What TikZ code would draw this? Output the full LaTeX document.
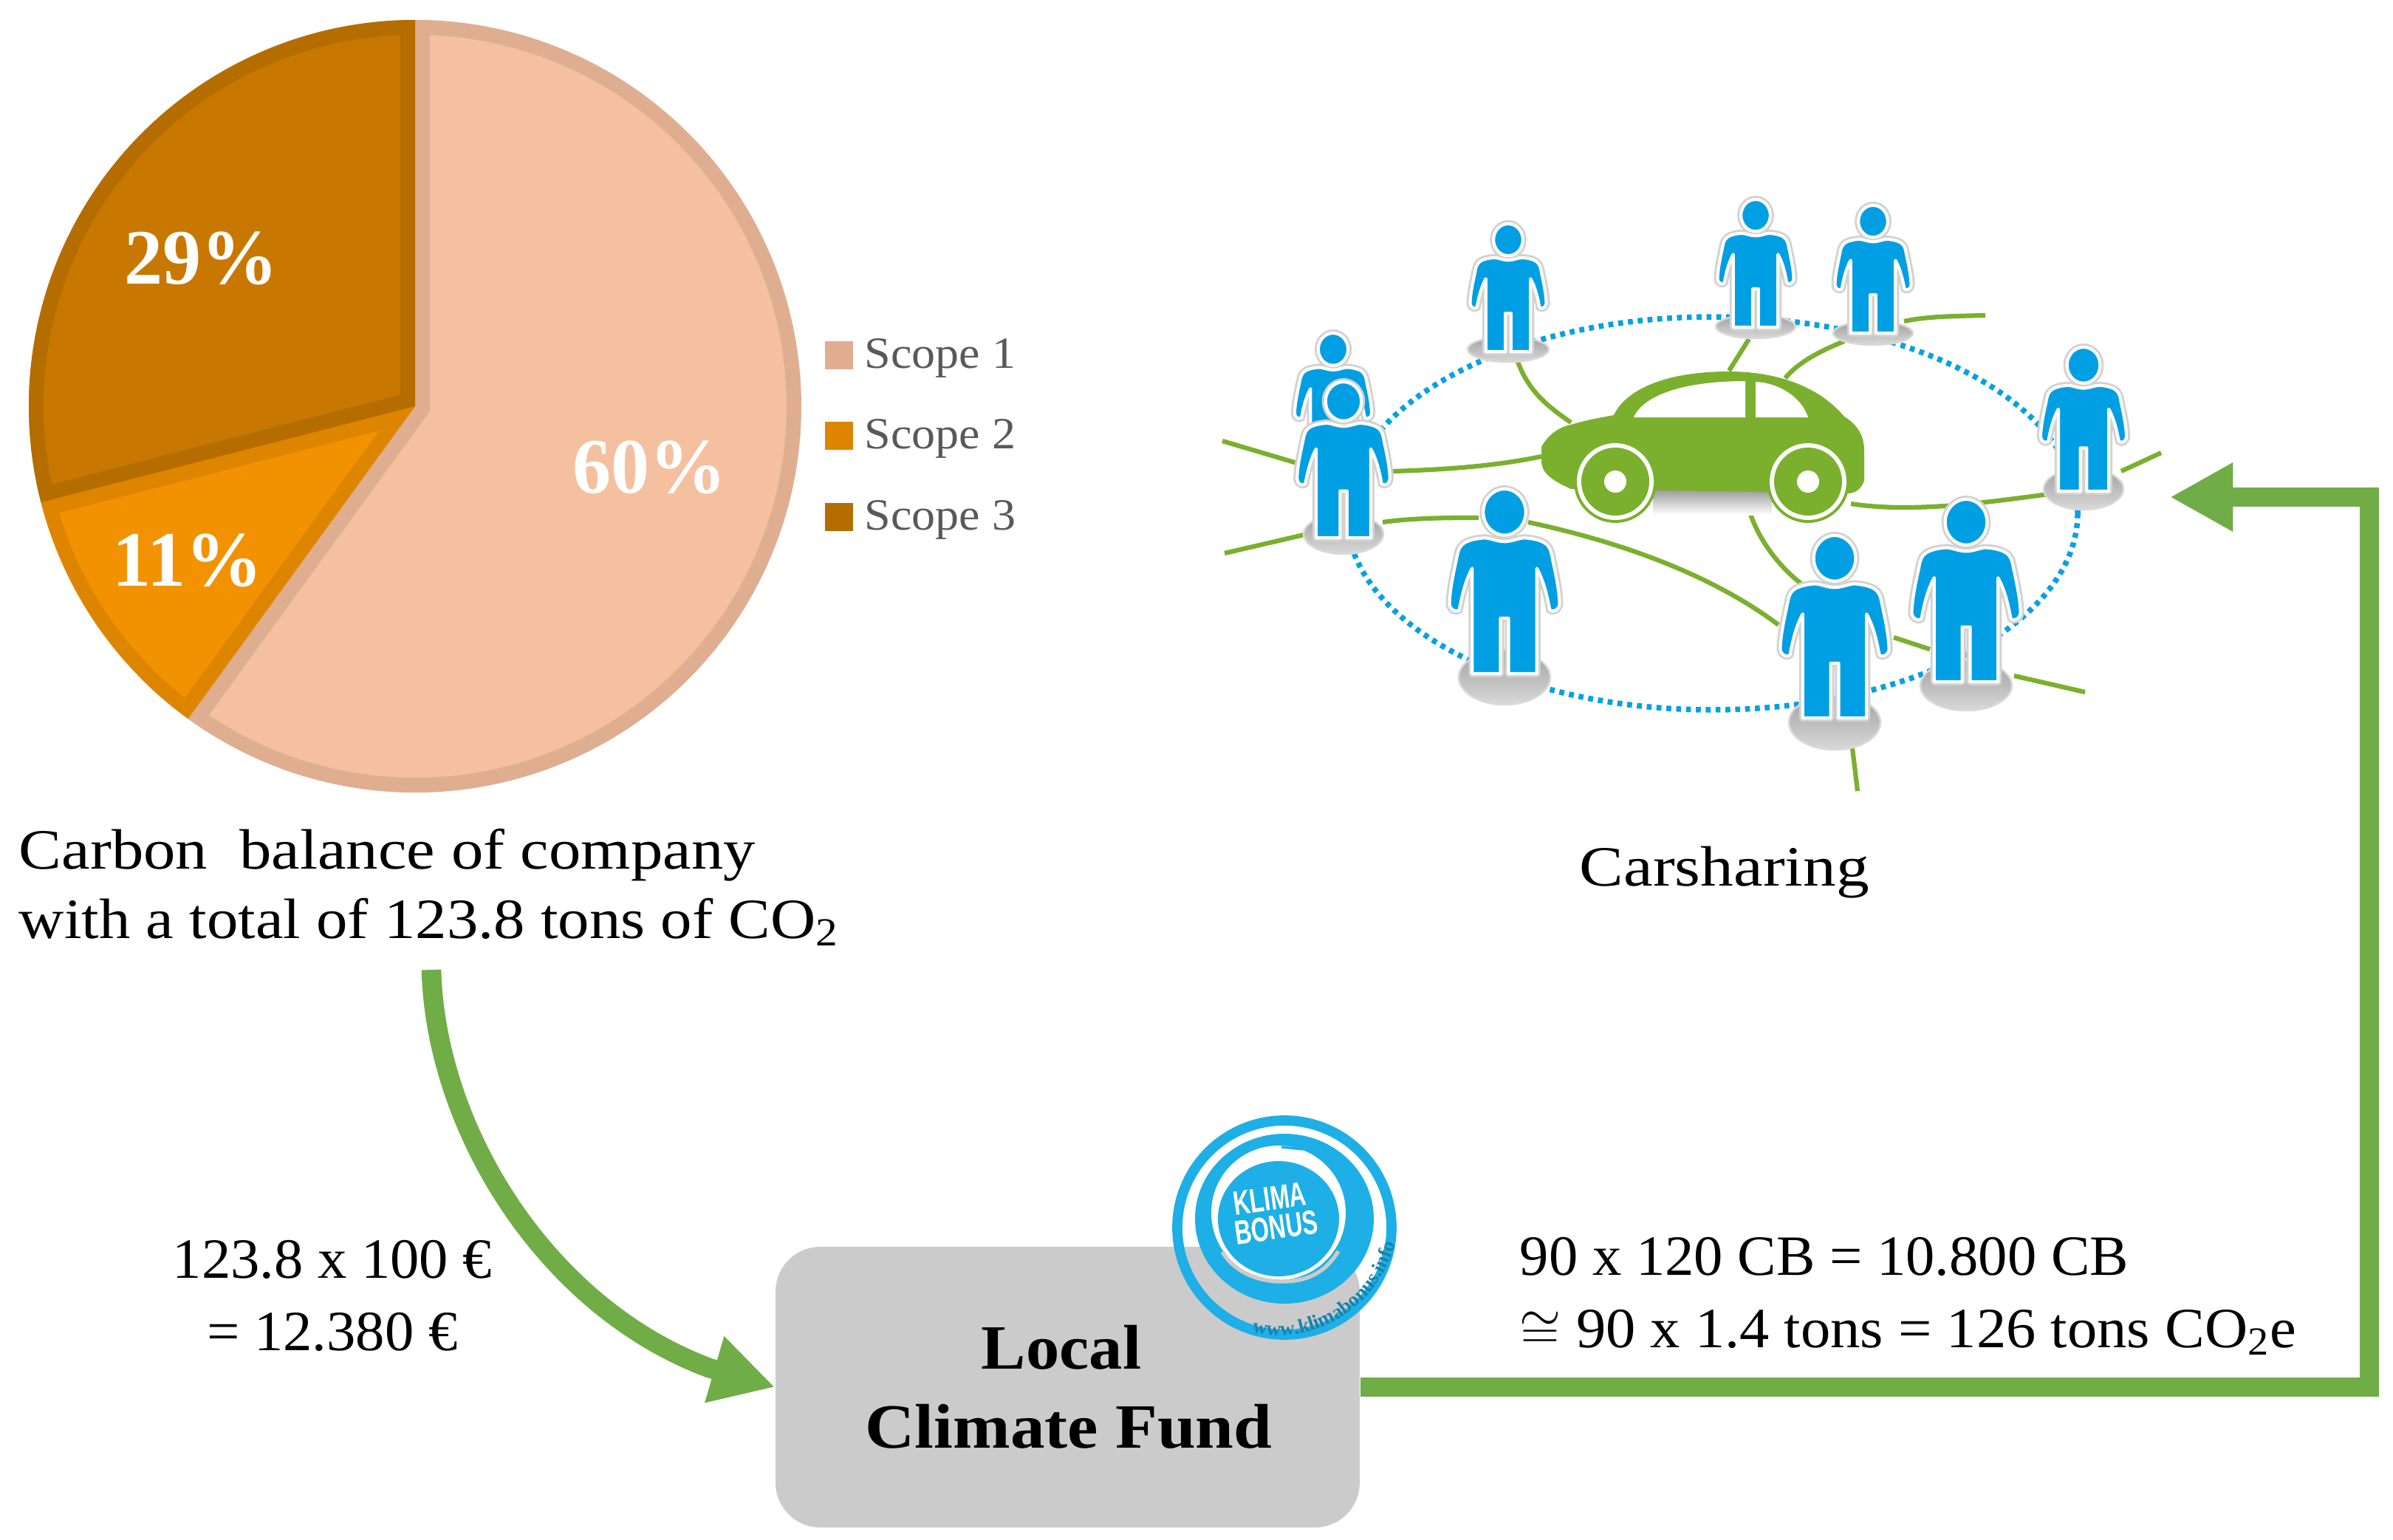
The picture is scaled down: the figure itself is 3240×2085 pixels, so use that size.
\documentclass[tikz,border=0pt]{standalone}
\usepackage{fontspec}
\setmainfont[FakeStretch=1.06]{Liberation Serif}
\newfontfamily\capfont[FakeStretch=1.125]{Liberation Serif}
\newfontfamily\capbfont[FakeStretch=1.10]{Liberation Serif}
\newfontfamily\carfont[FakeStretch=1.16]{Liberation Serif}
\newfontfamily\numfont[FakeStretch=1.02]{Liberation Serif}
\newfontfamily\cbfont[FakeStretch=1.045]{Liberation Serif}
\newfontfamily\fundfont[FakeStretch=1.09]{Liberation Serif}
\newfontfamily\pctfont[FakeStretch=0.98]{Liberation Serif}
\newfontfamily\webfont{Liberation Serif}
\newfontfamily\logofont[FakeStretch=0.68]{Liberation Sans}
\usetikzlibrary{arrows.meta,decorations.text}
\definecolor{greenarrow}{HTML}{70AD47}
\definecolor{sOnef}{HTML}{F5C09F}
\definecolor{sOnes}{HTML}{DFAE90}
\definecolor{sTwof}{HTML}{F39200}
\definecolor{sTwos}{HTML}{DE8500}
\definecolor{sThreef}{HTML}{C87800}
\definecolor{sThrees}{HTML}{B56D00}
\definecolor{legendtext}{HTML}{595959}
\definecolor{boxgray}{HTML}{CBCBCB}
\definecolor{personblue}{HTML}{009FE3}
\definecolor{logoblue}{HTML}{1DAFE6}
\definecolor{cargreen}{HTML}{7AB02E}
\tikzset{
  slice/.style={line width=9.6pt,line join=miter},
  maintext/.style={font=\capfont\fontsize{18.5}{22}\selectfont,inner sep=0pt,anchor=base west,text=black},
  numtext/.style={font=\numfont\fontsize{18.5}{22}\selectfont,inner sep=0pt,anchor=base west,text=black},
  pcttext/.style={font=\pctfont\fontsize{25.5}{28}\bfseries\selectfont,inner sep=0pt,anchor=base west,text=white},
  legendlabel/.style={font=\fontsize{14.5}{16}\selectfont,inner sep=0pt,anchor=base west,text=legendtext},
  legendbox/.style={inner sep=0pt,minimum size=9.3pt},
  fundbox/.style={fill=boxgray,rounded corners=14.5pt,minimum width=189.8pt,minimum height=91.2pt,inner sep=0pt},
  fundtext/.style={font=\fundfont\fontsize{20.5}{24}\bfseries\selectfont,inner sep=0pt,anchor=base,text=black},
  flow/.style={draw=greenarrow,line width=6.4pt,-{Triangle[length=20.5pt,width=21pt]}},
  carline/.style={draw=cargreen,line width=1.5pt},
  dotring/.style={draw=personblue!85!logoblue,line width=1.8pt,dash pattern=on 1.6pt off 1.6pt},
  basedisc/.style={top color=gray!75,bottom color=gray!30,draw=gray!30,line width=0.6pt},
  logotext/.style={rotate=8,font=\logofont\fontsize{11}{13}\bfseries\selectfont,text=white,inner sep=0pt},
}
\newcommand{\sliceshape}[1]{(562,550) -- plot[domain=#1,samples=150] ({562+523*cos(\x)},{550+523*sin(\x)}) -- cycle}
\newcommand{\slicefill}[3]{%
  \begin{scope}
    \clip \sliceshape{#1};
    \draw[slice,fill=#2,draw=#3] \sliceshape{#1};
  \end{scope}}
\newcommand{\bodyshape}{%
  (0.0,0.285)
  .. controls (0.04,0.285) and (0.08,0.265) .. (0.11,0.265)
  .. controls (0.14,0.268) and (0.16,0.27) .. (0.19,0.28)
  .. controls (0.235,0.295) and (0.25,0.32) .. (0.258,0.37)
  .. controls (0.27,0.43) and (0.295,0.53) .. (0.298,0.62)
  .. controls (0.298,0.65) and (0.27,0.672) .. (0.245,0.655)
  .. controls (0.235,0.60) and (0.215,0.50) .. (0.175,0.43)
  -- (0.175,1.0) -- (0.022,1.0) -- (0.022,0.70) -- (-0.022,0.70) -- (-0.022,1.0) -- (-0.175,1.0) -- (-0.175,0.43)
  .. controls (-0.215,0.50) and (-0.235,0.60) .. (-0.245,0.655)
  .. controls (-0.27,0.672) and (-0.298,0.65) .. (-0.298,0.62)
  .. controls (-0.295,0.53) and (-0.27,0.43) .. (-0.258,0.37)
  .. controls (-0.25,0.32) and (-0.235,0.295) .. (-0.19,0.28)
  .. controls (-0.16,0.27) and (-0.14,0.268) .. (-0.11,0.265)
  .. controls (-0.08,0.265) and (-0.04,0.285) .. (0.0,0.285) -- cycle}
\newcommand{\headshape}{(0,0.125) ellipse [x radius=0.115,y radius=0.125]}
% x, top y, height
\newcommand{\person}[3]{%
  \begin{scope}[shift={(#1,#2)},scale=#3]
    \draw[gray!35,line width=2.4pt,line join=round] \bodyshape;
    \draw[gray!35,line width=2.4pt] \headshape;
    \draw[fill=personblue,draw=white,line width=1.0pt,line join=round] \bodyshape;
    \draw[fill=personblue,draw=white,line width=1.0pt] \headshape;
  \end{scope}}
\begin{document}
\begin{tikzpicture}[x=0.24pt,y=-0.24pt]
\useasboundingbox (0,0) rectangle (3240,2085);

% --- pie
\slicefill{-90:126}{sOnef}{sOnes}
\slicefill{126:165.6}{sTwof}{sTwos}
\slicefill{165.6:270}{sThreef}{sThrees}
\node[pcttext] (pctA) at (775,667) {60\%};
\node[pcttext] (pctB) at (152,793) {11\%};
\node[pcttext] (pctC) at (168,385) {29\%};

% --- legend
\node[legendbox,fill=sOnes] (legA) at (1136,481) {};
\node[legendbox,fill=sTwos] (legB) at (1136,590) {};
\node[legendbox,fill=sThrees] (legC) at (1136,700) {};
\node[legendlabel] (legAt) at (1170,498) {Scope 1};
\node[legendlabel] (legBt) at (1170,607) {Scope 2};
\node[legendlabel] (legCt) at (1170,717) {Scope 3};

% --- captions
\node[maintext] (capA) at (25,1176) {Carbon\ \ balance of company};
\node[maintext,font=\capbfont\fontsize{18.5}{22}\selectfont] (capB) at (25,1270) {with a total of 123.8 tons of CO\textsubscript{2}};
\node[maintext,font=\carfont\fontsize{18.5}{22}\selectfont] (capC) at (2138,1199) {Carsharing};
\node[numtext,anchor=base] (sumA) at (450,1730) {123.8 x 100 €};
\node[numtext,anchor=base] (sumB) at (450,1828) {= 12.380 €};
\node[numtext] (cbA) at (2057,1726) {90 x 120 CB = 10.800 CB};
\node[numtext,font=\cbfont\fontsize{18.5}{22}\selectfont] (cbB) at (2057,1824) {$\cong$ 90 x 1.4 tons = 126 tons CO\textsubscript{2}e};

% --- carsharing network
\draw[dotring] (2318,695) ellipse [x radius=495,y radius=266];
\draw[carline] (2055,490) .. controls (2070,530) and (2095,550) .. (2127,572);
\draw[carline] (2368,459) -- (2341,502);
\draw[carline] (2497,462) .. controls (2465,475) and (2435,490) .. (2417,512);
\draw[carline] (2578,435) .. controls (2610,428) and (2650,428) .. (2688,427);
\draw[carline] (1655,597) -- (1756,627);
\draw[carline] (1886,638) .. controls (1950,636) and (2020,632) .. (2087,618);
\draw[carline] (1658,749) -- (1770,723);
\draw[carline] (1872,707) .. controls (1915,701) and (1960,701) .. (2002,701);
\draw[carline] (2069,707) .. controls (2200,735) and (2320,780) .. (2408,846);
\draw[carline] (2368,690) .. controls (2380,730) and (2410,770) .. (2444,794);
\draw[carline] (2506,682) .. controls (2590,695) and (2690,680) .. (2774,669);
\draw[carline] (2872,638) -- (2926,613);
\draw[carline] (2564,863) -- (2613,879);
\draw[carline] (2727,915) -- (2823,937);
\draw[carline] (2508,1013) -- (2515,1071);

% bases
\draw[basedisc] (2042,473) ellipse [x radius=55,y radius=17];
\draw[basedisc] (2377,442) ellipse [x radius=54,y radius=16];
\draw[basedisc] (2536,451) ellipse [x radius=54,y radius=16];
\draw[basedisc] (2821,662) ellipse [x radius=54,y radius=28];
\draw[basedisc] (1819,723) ellipse [x radius=54,y radius=27];
\draw[basedisc] (2037,917) ellipse [x radius=62,y radius=37];
\draw[basedisc] (2484,978) ellipse [x radius=62,y radius=37];
\draw[basedisc] (2662,928) ellipse [x radius=62,y radius=34];

% car
\fill[bottom color=white,top color=gray!85] (2238,660) rectangle (2399,697);
\fill[cargreen] (2127,662) .. controls (2100,650) and (2087,640) .. (2087,624)
  -- (2087,605) .. controls (2095,590) and (2110,578) .. (2127,575)
  .. controls (2150,568) and (2170,565) .. (2185,562)
  .. controls (2200,530) and (2250,503) .. (2341,503)
  .. controls (2400,503) and (2460,520) .. (2497,564)
  .. controls (2515,575) and (2524,590) .. (2524,610)
  -- (2524,651) .. controls (2520,662) and (2512,668) .. (2502,668) -- cycle;
\fill[white] (2212,565) .. controls (2225,535) and (2280,516) .. (2363,516) -- (2363,565) -- cycle;
\fill[white] (2377,517) .. controls (2405,518) and (2438,535) .. (2448,565) -- (2377,565) -- cycle;
\foreach \wx in {2187,2448} {
  \fill[cargreen] (\wx,652) circle[radius=56];
  \fill[white] (\wx,652) circle[radius=52];
  \fill[cargreen] (\wx,652) circle[radius=46];
  \fill[white] (\wx,652) circle[radius=15];
}

% people
\person{2042}{303}{173}
\person{2377}{270}{173}
\person{2536}{278}{173}
\person{2821}{470}{195}
\person{1805}{451}{175}
\person{1819}{517}{211}
\person{2037}{662}{250}
\person{2662}{676}{247}
\person{2484}{725}{247}

% --- fund box and flows
\node[fundbox] (fund) at (1445.5,1878) {};
\node[fundtext,font=\fontsize{20.5}{24}\bfseries\selectfont] (fundA) at (1437,1853) {Local};
\node[fundtext] (fundB) at (1447,1960) {Climate Fund};
\coordinate (flowstart) at (584,1313);
\coordinate (flowbend) at (960,1852);
\coordinate (flowtip) at (2938,673);
\coordinate (flowcorner) at (3208,1878);
\coordinate (flowtop) at (3208,673);
\draw[flow] (flowstart) .. controls (590,1530) and (740,1770) .. (flowbend) -- (fund.west);
\draw[flow] (fund.east) -- (flowcorner) -- (flowtop) -- (flowtip);

% --- logo
\draw[logoblue,line width=3.3pt] (1739,1662) circle[radius=145];
\fill[logoblue] (1739,1650) ellipse [x radius=121,y radius=115];
\fill[white] (1731,1642) ellipse [x radius=91,y radius=91];
\draw[boxgray,line width=1.3pt] (1812,1694) .. controls (1790,1730) and (1760,1735) .. (1735,1735) .. controls (1700,1735) and (1670,1720) .. (1655,1695);
\draw[logoblue,line width=0.5pt] (1803,1582) .. controls (1820,1600) and (1826,1620) .. (1828,1640);
\draw[logoblue,line width=0.8pt] (1735,1553) -- (1765,1556);
\fill[logoblue] (1731,1650) ellipse [x radius=82,y radius=78];
\node[logotext] (logoA) at (1719,1623) {KLIMA};
\node[logotext] (logoB) at (1728,1662) {BONUS};
\path[decorate,decoration={text along path,text align=center,
   text={|\webfont\fontsize{6.5}{7}\bfseries\selectfont\color{logoblue!75!black}|www.klimabonus.info}}]
  (1690,1802) .. controls (1775,1828) and (1872,1768) .. (1890,1678);
\end{tikzpicture}
\end{document}
